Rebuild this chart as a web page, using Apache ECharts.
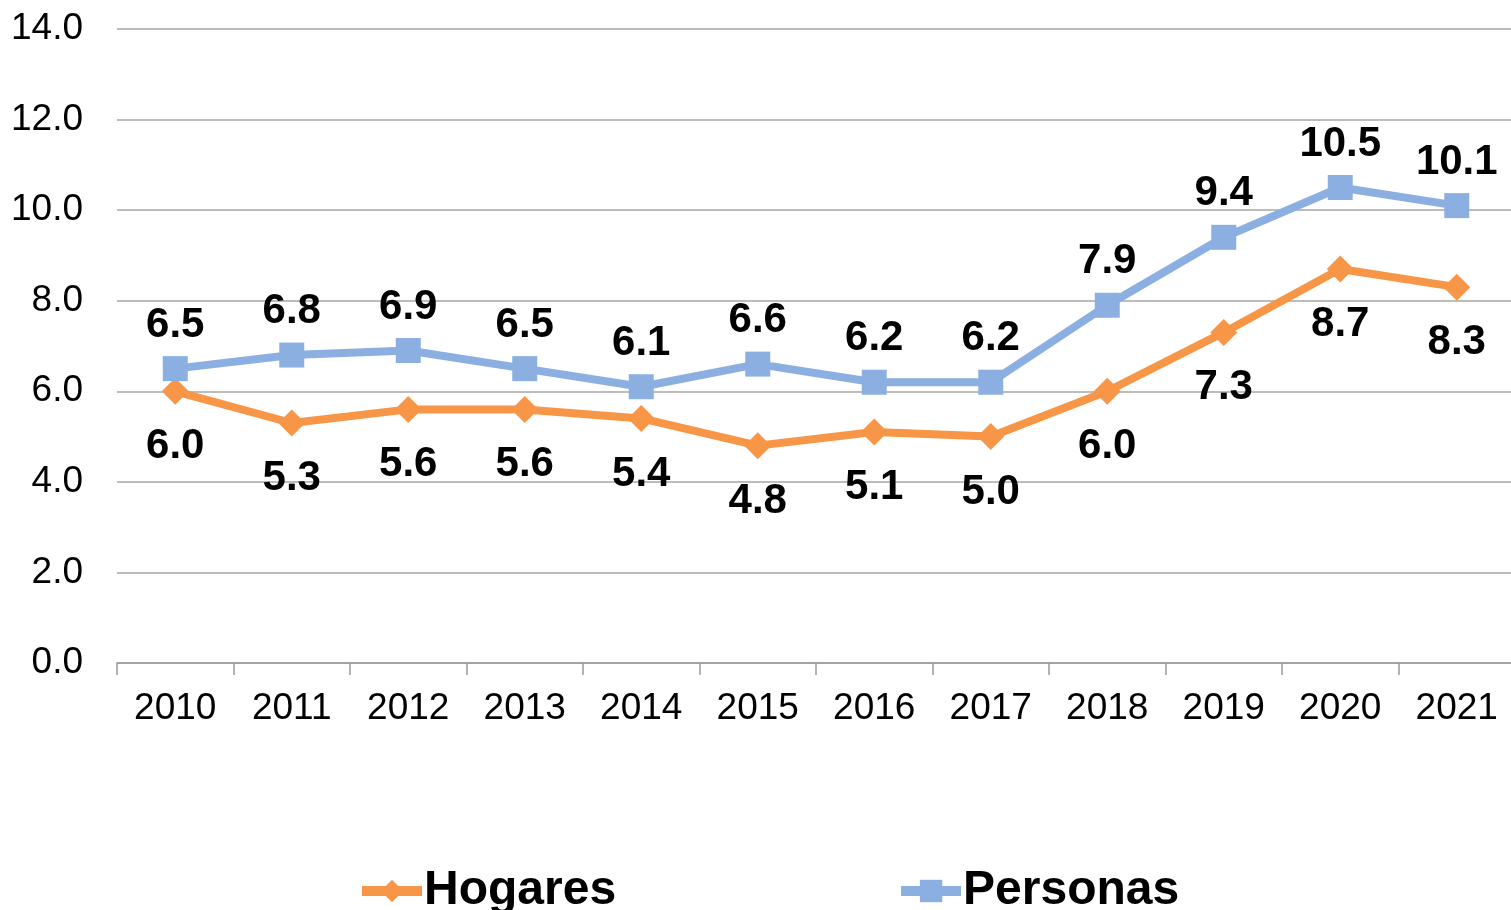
<!DOCTYPE html>
<html>
<head>
<meta charset="utf-8">
<script src="https://cdn.jsdelivr.net/npm/echarts@6/dist/echarts.min.js"></script>
<style>html,body{margin:0;padding:0;background:#fff;}#c{width:1511px;height:910px;}</style>
</head>
<body>
<div id="c"></div>
<script>
const years = ['2010','2011','2012','2013','2014','2015','2016','2017','2018','2019','2020','2021'];
const hogares = [6.0, 5.3, 5.6, 5.6, 5.4, 4.8, 5.1, 5.0, 6.0, 7.3, 8.7, 8.3];
const personas = [6.5, 6.8, 6.9, 6.5, 6.1, 6.6, 6.2, 6.2, 7.9, 9.4, 10.5, 10.1];
const seriesNames = ['Hogares', 'Personas'];

const FONT = '"Liberation Sans", Arial, sans-serif';
const chart = echarts.init(document.getElementById('c'), null, {renderer: 'canvas'});
chart.setOption({
  animation: false,
  backgroundColor: '#fff',
  grid: {left: 117, top: 29, width: 1398, bottom: 247, containLabel: false, outerBoundsMode: 'none'},
  xAxis: {
    type: 'category', data: years, boundaryGap: true,
    axisLine: {lineStyle: {color: '#9a9a9a', width: 1.5}},
    axisTick: {show: true, length: 12, lineStyle: {color: '#9a9a9a', width: 1.5}},
    axisLabel: {color: '#000', fontFamily: FONT, fontSize: 37, margin: 27}
  },
  yAxis: {
    type: 'value', min: 0, max: 14, interval: 2,
    axisLine: {show: false}, axisTick: {show: false},
    splitLine: {lineStyle: {color: '#a6a6a6', width: 1.5}},
    axisLabel: {color: '#000', fontFamily: FONT, fontSize: 37, margin: 34,
      formatter: v => v.toFixed(1)}
  },
  legend: {
    data: seriesNames, left: 352, top: 862, itemWidth: 60, itemHeight: 28, itemGap: 280,
    lineStyle: {width: 10},
    textStyle: {color: '#000', fontFamily: FONT, fontSize: 48, fontWeight: 'bold', padding: [0,0,0,-3]}
  },
  series: [
    {
      name: seriesNames[0], type: 'line', data: hogares,
      symbol: 'diamond', symbolSize: 27,
      lineStyle: {color: '#F79646', width: 8},
      itemStyle: {color: '#F79646'},
      label: {show: true, position: 'bottom', distance: 21, color: '#000', fontFamily: FONT,
        fontSize: 42, fontWeight: 'bold', formatter: p => p.value.toFixed(1)},
      z: 2
    },
    {
      name: seriesNames[1], type: 'line', data: personas,
      symbol: 'rect', symbolSize: 25,
      lineStyle: {color: '#8CAFE2', width: 8},
      itemStyle: {color: '#8CAFE2'},
      label: {show: true, position: 'top', distance: 10, color: '#000', fontFamily: FONT,
        fontSize: 42, fontWeight: 'bold', formatter: p => p.value.toFixed(1)},
      z: 3
    }
  ]
});
</script>
</body>
</html>
